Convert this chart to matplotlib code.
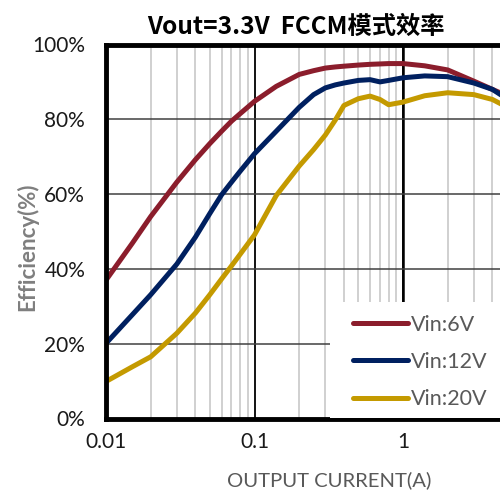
import matplotlib
matplotlib.use("Agg")
import matplotlib.pyplot as plt
from matplotlib.patches import Rectangle
from matplotlib.ticker import FixedLocator, NullFormatter, FuncFormatter

current = [0.01, 0.015, 0.02, 0.03, 0.04, 0.05, 0.06, 0.07, 0.08, 0.1, 0.14, 0.2,
           0.25, 0.3, 0.35, 0.4, 0.5, 0.6, 0.7, 0.8, 1.0, 1.4, 2.0, 3.0, 4.0, 5.0]
eff_6v = [37.0, 46.8, 54.0, 63.2, 69.2, 73.5, 76.8, 79.5, 81.5, 84.8, 88.8, 92.0,
          93.0, 93.7, 94.0, 94.2, 94.5, 94.7, 94.8, 94.9, 94.9, 94.3, 93.2, 90.2, 88.0, 86.3]
eff_12v = [20.1, 27.7, 33.1, 41.3, 48.5, 54.8, 59.8, 63.2, 66.1, 70.8, 76.8, 83.2,
           86.6, 88.4, 89.2, 89.7, 90.4, 90.6, 90.0, 90.4, 91.1, 91.6, 91.4, 89.7, 88.0, 85.5]
eff_20v = [9.9, 13.8, 16.5, 22.8, 28.2, 33.1, 37.3, 40.8, 43.9, 49.1, 59.6, 67.5,
           71.9, 75.8, 79.8, 83.7, 85.5, 86.2, 85.3, 83.9, 84.6, 86.3, 87.1, 86.6, 85.3, 83.3]
labels = ["Vin:6V", "Vin:12V", "Vin:20V"]
colors = ["#8B1D2C", "#002060", "#C49A00"]
yticks = [0, 20, 40, 60, 80, 100]
xticks = [0.01, 0.1, 1, 10]
xticklabels = ["0.01", "0.1", "1", ""]

plt.rcParams['font.family'] = ['Lato', 'Noto Sans CJK SC', 'DejaVu Sans']

W, H = 500, 492
fig = plt.figure(figsize=(W / 100, H / 100), dpi=100)
ax = fig.add_axes([106 / W, (H - 418.5) / H, 445.5 / W, 374 / H])

for y, lab, c in zip([eff_6v, eff_12v, eff_20v], labels, colors):
    ax.plot(current, y, color=c, lw=3.6, label=lab, solid_capstyle='round',
            solid_joinstyle='round', zorder=4)

ax.set_xscale('log')
ax.set_xlim(0.01, 10)
ax.set_ylim(0, 100)

ax.xaxis.set_major_locator(FixedLocator(xticks))
ax.set_xticklabels(xticklabels)
minor = [m * d for d in [0.01, 0.1, 1] for m in range(2, 10)]
ax.xaxis.set_minor_locator(FixedLocator(minor))
ax.xaxis.set_minor_formatter(NullFormatter())
ax.set_yticks(yticks)
ax.yaxis.set_major_formatter(FuncFormatter(lambda v, p: f"{int(v)}%"))

ax.grid(which='minor', axis='x', color='#C8C8C8', lw=1.2, zorder=1)
for xv in xticks[1:]:
    ax.axvline(xv, color='black', lw=1.3, zorder=2)
ax.axvline(1, color='black', lw=1.8, zorder=2)
for yv in yticks[1:-1]:
    ax.axhline(yv, color='#404040', lw=1.1, zorder=2)

ax.tick_params(which='both', length=0)
ax.tick_params(axis='x', pad=10, labelsize=15)
ax.tick_params(axis='y', pad=15, labelsize=15)
for t in ax.get_xticklabels() + ax.get_yticklabels():
    t.set_color('#1a1a1a')

for s in ['left', 'top', 'bottom']:
    ax.spines[s].set_linewidth(3.5)
    ax.spines[s].set_color('black')
ax.spines['right'].set_visible(False)
for s in ax.spines.values():
    s.set_zorder(5)

# legend background
rect = Rectangle((330 / W, (H - 418) / H), 230 / W, 116 / H, transform=fig.transFigure,
                 facecolor='white', edgecolor='none', zorder=6)
fig.patches.append(rect)
leg = fig.legend(loc='upper left', bbox_to_anchor=(344 / W, (H - 306) / H),
                 frameon=False, fontsize=15.5, handlelength=2.55, handletextpad=0.15,
                 labelspacing=0.8, labelcolor='#595959', borderaxespad=0)
leg.set_zorder(7)
for line in leg.get_lines():
    line.set_linewidth(3.6)
    line.set_solid_capstyle('round')

fig.text(296 / W, 1 - 27 / H, "Vout=3.3V  FCCM模式效率", ha='center', va='center',
         fontsize=17.5, fontweight='bold', family=['Noto Sans CJK SC', 'DejaVu Sans'],
         color='black')
fig.text(329 / W, 1 - 480 / H, "OUTPUT CURRENT(A)", ha='center', va='center',
         fontsize=14.6, color='#595959')
fig.text(27 / W, 1 - 247 / H, "Efficiency(%)", ha='center', va='center',
         rotation=90, fontsize=16, fontweight='bold', color='#7F7F7F')

fig.savefig("out.png", dpi=100)
